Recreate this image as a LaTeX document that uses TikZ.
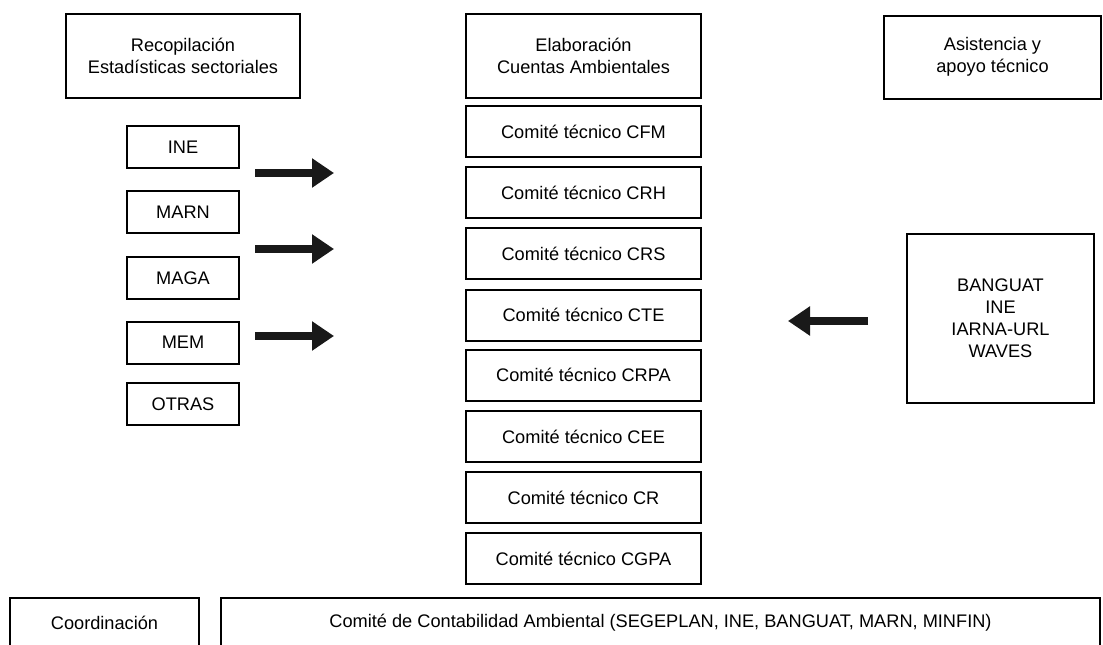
\documentclass[tikz,border=0pt]{standalone}
\usepackage{fontspec}
\setmainfont{Liberation Sans}
\usetikzlibrary{arrows.meta}
\tikzset{
  box/.style={draw=black, line width=2pt, fill=white, align=center, inner sep=0pt,
    font=\fontsize{18.2}{22}\selectfont},
  bigarrow/.style={line width=8pt, -{Triangle[length=22pt,width=28pt]}, draw=black!90}
}
\begin{document}
\begin{tikzpicture}[x=1pt,y=-1pt]
\useasboundingbox (0,0) rectangle (1103,645);
\clip (0,0) rectangle (1103,645);
% headers
\node[box, minimum width=234pt, minimum height=84pt] (rec) at (183,56) {Recopilación\\Estadísticas sectoriales};
\node[box, minimum width=235pt, minimum height=84pt] (ela) at (583.5,56) {Elaboración\\Cuentas Ambientales};
\node[box, minimum width=217pt, minimum height=83pt] (asi) at (992.5,57) {Asistencia y\\apoyo técnico};
% left small boxes
\node[box, minimum width=112pt, minimum height=42pt] (ine) at (183,147) {INE};
\node[box, minimum width=112pt, minimum height=42pt] (marn) at (183,212) {MARN};
\node[box, minimum width=112pt, minimum height=42pt] (maga) at (183,278) {MAGA};
\node[box, minimum width=112pt, minimum height=42pt] (mem) at (183,342.5) {MEM};
\node[box, minimum width=112pt, minimum height=42pt] (otras) at (183,404) {OTRAS};
% committee boxes
\node[box, minimum width=235pt, minimum height=51pt] (cfm) at (583.5,131.5) {Comité técnico CFM};
\node[box, minimum width=235pt, minimum height=51pt] (crh) at (583.5,192.5) {Comité técnico CRH};
\node[box, minimum width=235pt, minimum height=51pt] (crs) at (583.5,253.5) {Comité técnico CRS};
\node[box, minimum width=235pt, minimum height=51pt] (cte) at (583.5,315) {Comité técnico CTE};
\node[box, minimum width=235pt, minimum height=51pt] (crpa) at (583.5,375) {Comité técnico CRPA};
\node[box, minimum width=235pt, minimum height=51pt] (cee) at (583.5,436.5) {Comité técnico CEE};
\node[box, minimum width=235pt, minimum height=51pt] (cr) at (583.5,497.5) {Comité técnico CR};
\node[box, minimum width=235pt, minimum height=51pt] (cgpa) at (583.5,558.5) {Comité técnico CGPA};
% right box
\node[box, minimum width=187pt, minimum height=169pt] (ban) at (1000.5,318.5) {BANGUAT\\INE\\IARNA-URL\\WAVES};
% bottom boxes (cut off at bottom)
\node[box, minimum width=189pt, minimum height=50pt] (coord) at (104.5,623) {Coordinación};
\node[box, minimum width=879pt, minimum height=50pt] (cca) at (660.5,623) {Comité de Contabilidad Ambiental (SEGEPLAN, INE, BANGUAT, MARN, MINFIN)};
% arrows
\coordinate (a1s) at (255,173); \coordinate (a1e) at (334,173);
\coordinate (a2s) at (255,249); \coordinate (a2e) at (334,249);
\coordinate (a3s) at (255,336); \coordinate (a3e) at (334,336);
\coordinate (a4s) at (868,321); \coordinate (a4e) at (788,321);
\draw[bigarrow] (a1s) -- (a1e);
\draw[bigarrow] (a2s) -- (a2e);
\draw[bigarrow] (a3s) -- (a3e);
\draw[bigarrow] (a4s) -- (a4e);
\end{tikzpicture}
\end{document}
